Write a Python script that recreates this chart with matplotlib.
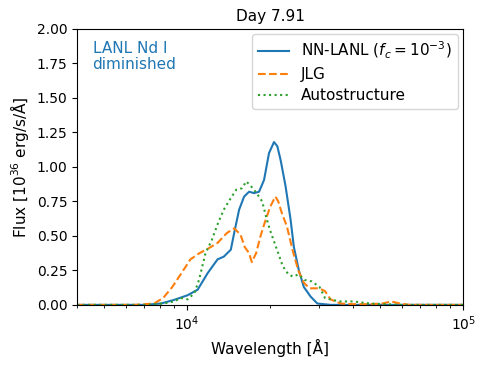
import matplotlib
matplotlib.use("Agg")
import matplotlib.pyplot as plt

# wavelengths in Angstrom, flux in 1e36 erg/s/A
nn_wave = [4000, 7000, 8054, 8976, 10058, 10930, 11880, 12906, 13602, 14413, 14818,
           15446, 16103, 16786, 17500, 18240, 19012, 19820, 20660, 21240, 21830,
           22750, 23715, 24380, 25420, 26490, 28040, 29650, 33100, 100000]
nn_flux = [0.0, 0.0, 0.01, 0.036, 0.07, 0.11, 0.23, 0.33, 0.35, 0.40, 0.52,
           0.69, 0.785, 0.82, 0.81, 0.82, 0.905, 1.10, 1.18, 1.15, 1.05,
           0.86, 0.62, 0.42, 0.25, 0.13, 0.06, 0.01, 0.0, 0.0]

jlg_wave = [4000, 6500, 7600, 8200, 8850, 9550, 10290, 11100, 11980, 12920, 13930,
            14820, 15620, 16180, 16780, 17170, 17800, 18440, 19080, 20000, 20900,
            21400, 22100, 23000, 24100, 25300, 26500, 27800, 30100, 31600, 33100,
            36000, 40000, 46000, 51000, 55000, 59000, 64000, 100000]
jlg_flux = [0.0, 0.0, 0.01, 0.05, 0.13, 0.23, 0.33, 0.375, 0.41, 0.45, 0.52,
            0.555, 0.51, 0.42, 0.375, 0.31, 0.375, 0.495, 0.59, 0.71, 0.785,
            0.75, 0.66, 0.57, 0.40, 0.25, 0.16, 0.12, 0.12, 0.10, 0.04,
            0.01, 0.005, 0.005, 0.01, 0.025, 0.01, 0.0, 0.0]

auto_wave = [4000, 7200, 8300, 9000, 9500, 10058, 10640, 11050, 11670, 12300, 12940,
             13590, 14270, 15080, 15820, 16390, 17060, 17860, 18720, 19330, 19960,
             20580, 21400, 22230, 23320, 24220, 25290, 26730, 28310, 30190, 31600,
             35500, 40000, 46000, 52000, 60000, 100000]
auto_flux = [0.0, 0.0, 0.012, 0.025, 0.05, 0.04, 0.085, 0.18, 0.375, 0.47, 0.59,
             0.69, 0.76, 0.835, 0.845, 0.895, 0.86, 0.81, 0.75, 0.64, 0.545,
             0.47, 0.375, 0.28, 0.22, 0.205, 0.22, 0.18, 0.17, 0.13, 0.05,
             0.025, 0.025, 0.01, 0.005, 0.0, 0.0]

fig = plt.figure(figsize=(4.88, 3.66), dpi=100)
ax = fig.add_axes([0.158, 0.167, 0.791, 0.754])

ax.plot(nn_wave, nn_flux, color='C0', ls='-', label=r'NN-LANL ($f_c = 10^{-3}$)')
ax.plot(jlg_wave, jlg_flux, color='C1', ls='--', label='JLG')
ax.plot(auto_wave, auto_flux, color='C2', ls=':', label='Autostructure')

ax.set_xscale('log')
ax.set_xlim(4000, 1e5)
ax.set_ylim(0, 2.0)
ax.set_yticks([0, 0.25, 0.5, 0.75, 1.0, 1.25, 1.5, 1.75, 2.0])
ax.set_xlabel('Wavelength [Å]', fontsize=11)
ax.set_ylabel(r'Flux [$10^{36}$ erg/s/Å]', fontsize=11)
ax.set_title('Day 7.91', fontsize=11)
ax.text(0.04, 0.955, 'LANL Nd I\ndiminished', color='C0', transform=ax.transAxes,
        ha='left', va='top', fontsize=11, linespacing=1.05)
ax.legend(loc='upper right', fontsize=11, labelspacing=0.38, borderaxespad=0.35)

fig.savefig('out.png', dpi=100)
plt.close()
